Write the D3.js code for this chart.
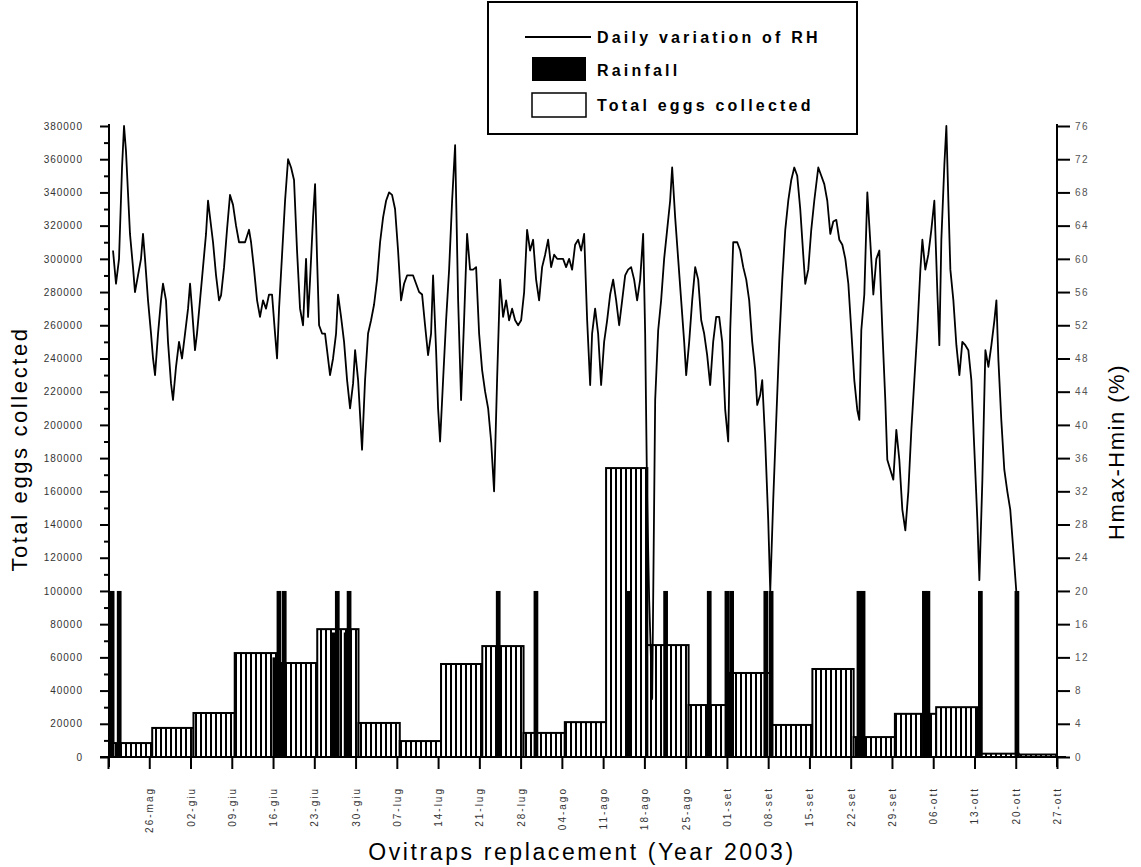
<!DOCTYPE html>
<html><head><meta charset="utf-8">
<script src="https://cdn.jsdelivr.net/npm/d3@7"></script>
<style>body{margin:0;background:#fff}svg{display:block}text{font-family:"Liberation Sans",Arial,sans-serif}</style>
</head><body>
<svg id="c" width="1141" height="867"></svg>
<script>
// ---- data ----
const weekLabels = ["", "26-mag", "02-giu", "09-giu", "16-giu", "23-giu", "30-giu", "07-lug", "14-lug", "21-lug", "28-lug", "04-ago", "11-ago", "18-ago", "25-ago", "01-set", "08-set", "15-set", "22-set", "29-set", "06-ott", "13-ott", "20-ott", "27-ott"];
const eggs = [8400, 17500, 26500, 62600, 56600, 77000, 20500, 9600, 56000, 66800, 14500, 21000, 174000, 67400, 31300, 50600, 19300, 53000, 12000, 26000, 30000, 2000, 1500];
const rainDays = [0.7, 1.9, 28.3, 29.0, 29.9, 38.3, 38.9, 40.4, 40.9, 66.2, 72.6, 88.2, 94.6, 102.0, 105.0, 105.8, 111.6, 112.5, 127.4, 128.1, 138.5, 139.1, 148.0, 154.2];
const rainValues = [20, 20, 12, 20, 20, 15, 20, 15, 20, 20, 20, 20, 20, 20, 20, 20, 20, 20, 20, 20, 20, 20, 20, 20];
const rhDays = [0.85,1.36,1.87,2.38,2.72,3.05,3.39,3.73,4.24,4.58,5.09,5.60,5.94,6.28,6.79,7.30,7.64,7.98,8.49,8.99,9.33,9.84,10.18,10.69,11.03,11.54,12.05,12.56,13.07,13.58,13.92,14.25,14.76,15.10,15.61,16.12,16.63,16.97,17.31,17.82,18.33,18.84,19.18,19.69,20.19,20.70,21.21,21.72,22.23,22.74,23.25,23.93,24.27,24.78,25.29,25.79,26.30,26.81,27.32,27.83,28.34,28.68,29.02,29.53,30.04,30.55,31.06,31.56,32.07,32.58,33.09,33.60,33.94,34.28,34.79,35.13,35.47,35.81,36.32,36.82,37.16,37.67,38.18,38.69,39.03,39.54,40.05,40.56,41.07,41.58,41.92,42.43,43.10,43.61,44.12,44.63,45.14,45.65,46.16,46.67,47.18,47.69,48.19,48.70,49.21,49.72,50.23,50.74,51.25,51.76,52.27,52.78,53.29,53.79,54.30,54.81,55.15,55.66,56.00,56.34,56.85,57.36,57.87,58.38,58.89,59.40,59.90,60.41,60.92,61.43,61.94,62.45,62.96,63.47,63.98,64.49,65.00,65.50,66.01,66.52,67.03,67.54,68.05,68.56,69.07,69.58,70.09,70.60,71.10,71.61,72.12,72.63,73.14,73.65,74.16,74.67,75.18,75.69,76.20,76.70,77.21,77.72,78.23,78.74,79.25,79.76,80.27,80.78,81.29,81.80,82.13,82.64,83.15,83.66,84.17,84.68,85.19,85.70,86.21,86.72,87.23,87.74,88.24,88.75,89.26,89.77,90.28,90.79,91.13,91.47,91.81,92.32,92.83,93.34,93.84,94.35,94.86,95.37,95.71,96.22,96.73,97.24,97.75,98.09,98.60,99.11,99.62,100.13,100.64,101.14,101.65,102.16,102.67,103.18,103.69,104.20,104.71,105.22,105.56,106.07,106.75,107.26,107.77,108.28,108.78,109.29,109.80,110.14,110.65,110.99,111.50,112.01,112.35,112.86,113.37,113.88,114.39,114.90,115.41,115.92,116.43,116.93,117.44,117.95,118.29,118.80,119.31,119.82,120.50,121.01,121.52,122.03,122.54,123.05,123.56,124.07,124.58,125.09,125.60,126.10,126.61,127.12,127.46,127.80,128.31,128.82,129.33,129.84,130.35,130.86,131.37,131.87,132.21,132.72,133.23,133.74,134.25,134.76,135.27,135.78,136.29,136.80,137.31,137.82,138.16,138.66,139.17,139.68,140.19,140.70,141.04,141.38,141.89,142.23,142.57,142.91,143.42,143.93,144.44,144.94,145.45,145.96,146.47,146.98,147.49,147.83,148.34,148.85,149.36,149.87,150.38,150.72,151.06,151.55,152.06,152.57,153.07,153.58,154.09];
const rhValues = [61,57,60,71,76,73,68,63,59,56,58,60,63,60,55,51,48,46,51,55,57,55,50,45,43,47,50,48,51,54,57,54,49,51,55,59,63,67,65,62,58,55,55.6,59,63.5,67.7,66.5,64,62,62,62,63.5,62,58.7,55,53,55,54,55.7,55.7,51,48,54,60.5,67,72,71,69.5,61,54,52,60,53,57.5,65,69,60,52,51,51,49,46,48,51,55.7,53,50,45.4,42,45,49,45.4,37,45.4,51,52.6,54.5,57.5,62,65,67,68,67.7,66,61,55,57,58,58,58,57,56,55.7,52,48.4,51,58,49,42,38,45.4,52.6,58.7,67,73.7,55,43,52.6,63,58.7,58.7,59,51,46.6,44,42,38,32,45.4,57.5,53,55,52.6,54,52.6,52,52.6,56,63.5,61,62.3,57.5,55,59,60.5,62.3,59,60.5,60,60,60,59,60,58.7,61.7,62.3,61,63,52.6,44.8,51,54,51,44.8,50,52.6,55.7,57.5,55,52,55,58,58.7,59,57.5,55,57.5,63,51,31,19,7,43,51.4,55,60,63.5,67,71,65,60,55,50,46,50,55,59,57.5,52.6,51,48.4,44.8,50,53,53,50,41.8,38,51.4,62,62,61,59,57.5,55,50,46.6,42.4,43.6,45.4,38,28.5,20,31,40.6,50,57.5,63.5,67,69.5,71,70,66,60.5,57,58.7,63.5,67,71,70,69,67,63,64.5,64.7,62.3,61.7,60,57,51.4,45.4,41.8,40.6,51.4,55.7,68,62,55.7,60,61,51.4,43,35.8,34.6,33.4,39.4,35.8,29.8,27.3,32,39.4,45.4,51.4,58.7,62.3,58.7,60.5,63.5,67,56,49.6,62.3,71.3,76,67,58.7,55,49.6,46,50,49.6,49,45.4,37,28.5,21.3,33.4,49,47,49.6,52.6,55,47.8,40.6,34.6,32,29.8,25,20];
const leftTicks = d3.range(0, 380001, 20000);
const rightTicks = d3.range(0, 77, 4);

// ---- scales ----
const svg = d3.select("#c");
const x = d3.scaleLinear().domain([0, 161]).range([108, 1057]);
const yL = d3.scaleLinear().domain([0, 380000]).range([757, 126]);
const yR = d3.scaleLinear().domain([0, 76]).range([757, 126]);

const defs = svg.append("defs");
const pat = defs.append("pattern").attr("id", "hatch").attr("patternUnits", "userSpaceOnUse")
  .attr("width", 5).attr("height", 10);
pat.append("rect").attr("width", 5).attr("height", 10).attr("fill", "#fff");
pat.append("rect").attr("x", 0).attr("width", 2).attr("height", 10).attr("fill", "#000");

// egg bars
svg.append("g").selectAll("rect").data(eggs).join("rect")
  .attr("x", (d, i) => x(7 * i + 0.5))
  .attr("width", (d, i) => x(Math.min(7 * i + 7.5, 161)) - x(7 * i + 0.5))
  .attr("y", d => yL(d))
  .attr("height", d => yL(0) - yL(d))
  .attr("fill", "url(#hatch)").attr("stroke", "#000").attr("stroke-width", 2);

// rain bars
svg.append("g").selectAll("rect").data(rainDays).join("rect")
  .attr("x", d => x(d - 0.4))
  .attr("width", d => x(d + 0.4) - x(d - 0.4))
  .attr("y", (d, i) => yR(rainValues[i]))
  .attr("height", (d, i) => yR(0) - yR(rainValues[i]))
  .attr("fill", "#000");

// RH line
const line = d3.line().x((d, i) => x(rhDays[i])).y(d => yR(d));
svg.append("path").datum(rhValues).attr("d", line)
  .attr("fill", "none").attr("stroke", "#000").attr("stroke-width", 1.8).attr("stroke-linejoin", "round");

// axes
const axisStyle = g => { g.select(".domain").remove(); g.selectAll("line").attr("stroke", "#000").attr("stroke-width", 2); };
svg.append("g").attr("transform", "translate(109,0)")
  .call(d3.axisLeft(yL).tickValues(leftTicks.slice(0, -1).map(v => v + 10000)).tickSize(5).tickFormat(""))
  .call(axisStyle);
const gl = svg.append("g").attr("transform", "translate(109,0)")
  .call(d3.axisLeft(yL).tickValues(leftTicks).tickSize(9).tickPadding(17).tickFormat(d => d))
  .call(axisStyle);
gl.selectAll("text").attr("font-size", 10).attr("letter-spacing", 1).attr("fill", "#333");

const gr = svg.append("g").attr("transform", "translate(1057,0)")
  .call(d3.axisRight(yR).tickValues(rightTicks).tickSize(13).tickPadding(5).tickFormat(d => d))
  .call(axisStyle);
gr.selectAll("text").attr("font-size", 10).attr("letter-spacing", 1.5).attr("fill", "#555");

const gx = svg.append("g").attr("transform", "translate(0,757)")
  .call(d3.axisBottom(x).tickValues(d3.range(0, 162, 7)).tickSize(12).tickFormat(""))
  .call(axisStyle);
gx.selectAll(".tick").append("text")
  .text((d, i) => weekLabels[i])
  .attr("transform", "rotate(-90)")
  .attr("x", -30).attr("y", 0).attr("dy", "0.35em")
  .attr("text-anchor", "end").attr("font-size", 10).attr("letter-spacing", 2)
  .attr("fill", "#333");

// axis lines
svg.append("line").attr("x1", 109).attr("x2", 109).attr("y1", 124).attr("y2", 767).attr("stroke", "#000").attr("stroke-width", 2);
svg.append("line").attr("x1", 1057).attr("x2", 1057).attr("y1", 124).attr("y2", 767).attr("stroke", "#000").attr("stroke-width", 2);
svg.append("line").attr("x1", 100).attr("x2", 1066).attr("y1", 757).attr("y2", 757).attr("stroke", "#000").attr("stroke-width", 2);

// titles
svg.append("text").attr("transform", "translate(27,449) rotate(-90)").attr("text-anchor", "middle")
  .attr("font-size", 22).attr("letter-spacing", 2.6).text("Total eggs collected");
svg.append("text").attr("transform", "translate(1124,452) rotate(-90)").attr("text-anchor", "middle")
  .attr("font-size", 22).attr("letter-spacing", 1.5).text("Hmax-Hmin (%)");
svg.append("text").attr("x", 582).attr("y", 860).attr("text-anchor", "middle")
  .attr("font-size", 23).attr("letter-spacing", 2.6).text("Ovitraps replacement (Year 2003)");

// legend
const lg = svg.append("g");
lg.append("rect").attr("x", 488).attr("y", 2).attr("width", 369).attr("height", 132)
  .attr("fill", "#fff").attr("stroke", "#000").attr("stroke-width", 2);
lg.append("line").attr("x1", 525).attr("x2", 591).attr("y1", 37).attr("y2", 37).attr("stroke", "#000").attr("stroke-width", 1.8);
lg.append("rect").attr("x", 532).attr("y", 57).attr("width", 54).attr("height", 24).attr("fill", "#000");
lg.append("rect").attr("x", 532).attr("y", 93).attr("width", 54).attr("height", 24).attr("fill", "#fff").attr("stroke", "#000").attr("stroke-width", 1.5);
const legTexts = ["Daily variation of RH", "Rainfall", "Total eggs collected"];
const legY = [43, 76, 111];
lg.selectAll("text.leg").data(legTexts).join("text").attr("class", "leg")
  .attr("x", 597).attr("y", (d, i) => legY[i])
  .attr("font-size", 16).attr("font-weight", "bold").attr("letter-spacing", 3.2).text(d => d);
</script>
</body></html>
